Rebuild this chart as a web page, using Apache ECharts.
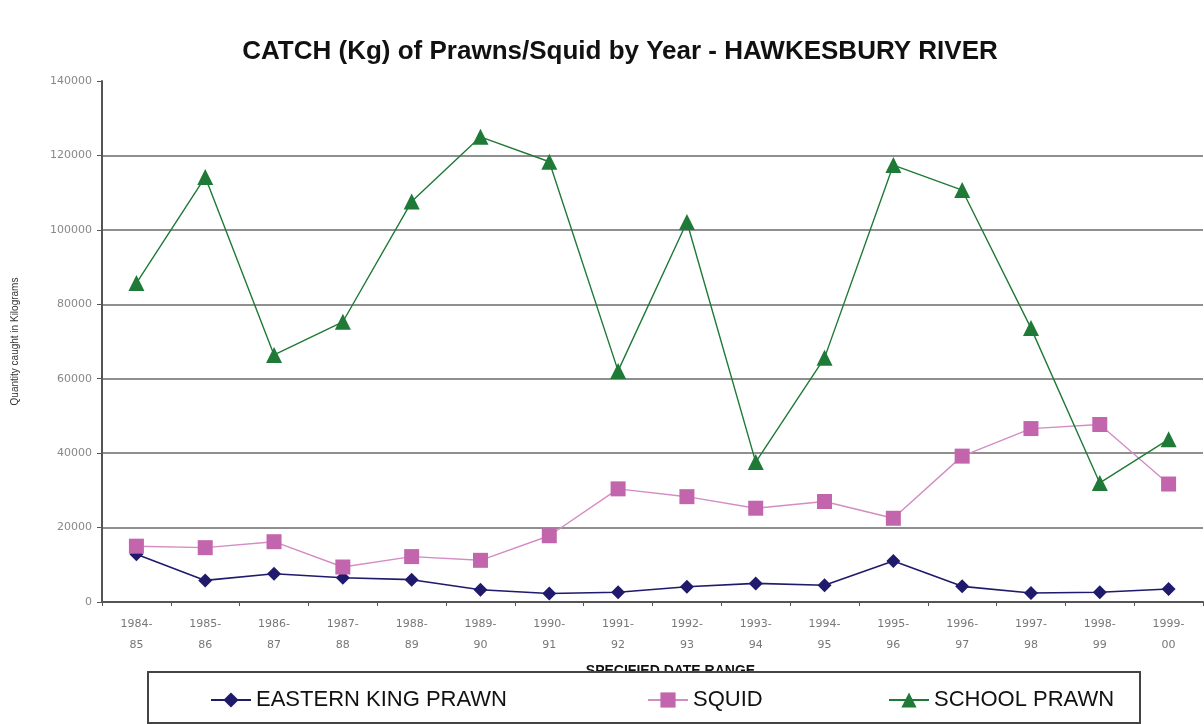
<!DOCTYPE html>
<html>
<head>
<meta charset="utf-8">
<script src="https://cdn.jsdelivr.net/npm/echarts@6/dist/echarts.min.js"></script>
<style>html,body{margin:0;padding:0;background:#fff}#c{width:1204px;height:724px}</style>
</head>
<body>
<div id="c"></div>
<script>
const titleText = 'CATCH (Kg) of Prawns/Squid by Year - HAWKESBURY RIVER';
const yAxisName = 'Quantity caught in Kilograms';
const xAxisName = 'SPECIFIED DATE RANGE';
const years = ['1984-85','1985-86','1986-87','1987-88','1988-89','1989-90','1990-91','1991-92','1992-93','1993-94','1994-95','1995-96','1996-97','1997-98','1998-99','1999-00'];
const easternKing = [12800, 5800, 7600, 6500, 6000, 3300, 2300, 2600, 4100, 5000, 4500, 11000, 4200, 2400, 2600, 3500];
const squid = [15000, 14600, 16200, 9400, 12200, 11200, 17800, 30400, 28300, 25200, 27000, 22500, 39200, 46600, 47700, 31700];
const schoolPrawn = [85700, 114200, 66400, 75300, 107600, 125000, 118300, 62100, 102100, 37600, 65600, 117400, 110700, 73600, 32000, 43700];
const seriesNames = ['EASTERN KING PRAWN', 'SQUID', 'SCHOOL PRAWN'];

const colors = ['#1f1a6b', '#c265ad', '#1e7a36'];
const chart = echarts.init(document.getElementById('c'));
const legendBase = {
  top: 684, itemWidth: 40, itemHeight: 19, itemGap: 10, z: 110,
  textStyle: {fontFamily: 'Liberation Sans, Arial, sans-serif', fontSize: 22, color: '#111'}
};
chart.setOption({
  animation: false,
  backgroundColor: '#fff',
  title: {
    text: titleText, left: 615, top: 34, textAlign: 'center',
    textStyle: {fontFamily: 'Liberation Sans, Arial, sans-serif', fontSize: 26, fontWeight: 'bold', color: '#111'}
  },
  grid: {left: 102, right: 1, top: 81, bottom: 122, containLabel: false},
  legend: [
    Object.assign({}, legendBase, {left: 205, data: [seriesNames[0]]}),
    Object.assign({}, legendBase, {left: 642, data: [seriesNames[1]]}),
    Object.assign({}, legendBase, {left: 883, data: [seriesNames[2]]})
  ],
  graphic: [{
    type: 'rect', z: 100,
    shape: {x: 148, y: 672, width: 992, height: 51},
    style: {fill: '#fff', stroke: '#444', lineWidth: 2}
  }],
  xAxis: {
    type: 'category', data: years, boundaryGap: true,
    name: xAxisName, nameLocation: 'middle', nameGap: 62,
    nameTextStyle: {fontFamily: 'Liberation Sans, Arial, sans-serif', fontSize: 14, fontWeight: 'bold', color: '#111', padding: [0, 0, 0, 36]},
    axisLine: {lineStyle: {color: '#555', width: 2}},
    axisTick: {show: true, length: 4, lineStyle: {color: '#555'}},
    axisLabel: {
      interval: 0, margin: 12, lineHeight: 21,
      fontFamily: 'DejaVu Sans, sans-serif', fontSize: 11, color: '#777',
      formatter: v => v.replace('-', '-\n')
    },
    splitLine: {show: false}
  },
  yAxis: {
    type: 'value', min: 0, max: 140000, interval: 20000,
    name: yAxisName, nameLocation: 'middle', nameGap: 82, nameRotate: 90,
    nameTextStyle: {fontFamily: 'Liberation Sans, Arial, sans-serif', fontSize: 10, color: '#333'},
    axisLine: {show: true, lineStyle: {color: '#555', width: 2}},
    axisTick: {show: true, length: 5, lineStyle: {color: '#555'}},
    axisLabel: {margin: 10, fontFamily: 'DejaVu Sans, sans-serif', fontSize: 11, color: '#888',
      formatter: v => String(v)},
    splitLine: {show: true, showMaxLine: false, lineStyle: {color: '#6a6a6a', width: 1.6}}
  },
  series: [
    {name: seriesNames[0], type: 'line', data: easternKing, symbol: 'diamond', symbolSize: 14,
      itemStyle: {color: colors[0]}, lineStyle: {color: colors[0], width: 1.6}, z: 3},
    {name: seriesNames[1], type: 'line', data: squid, symbol: 'rect', symbolSize: 15,
      itemStyle: {color: colors[1]}, lineStyle: {color: '#d48cc4', width: 1.4}, z: 4},
    {name: seriesNames[2], type: 'line', data: schoolPrawn, symbol: 'triangle', symbolSize: 16,
      itemStyle: {color: colors[2]}, lineStyle: {color: colors[2], width: 1.4}, z: 5}
  ]
});
</script>
</body>
</html>
